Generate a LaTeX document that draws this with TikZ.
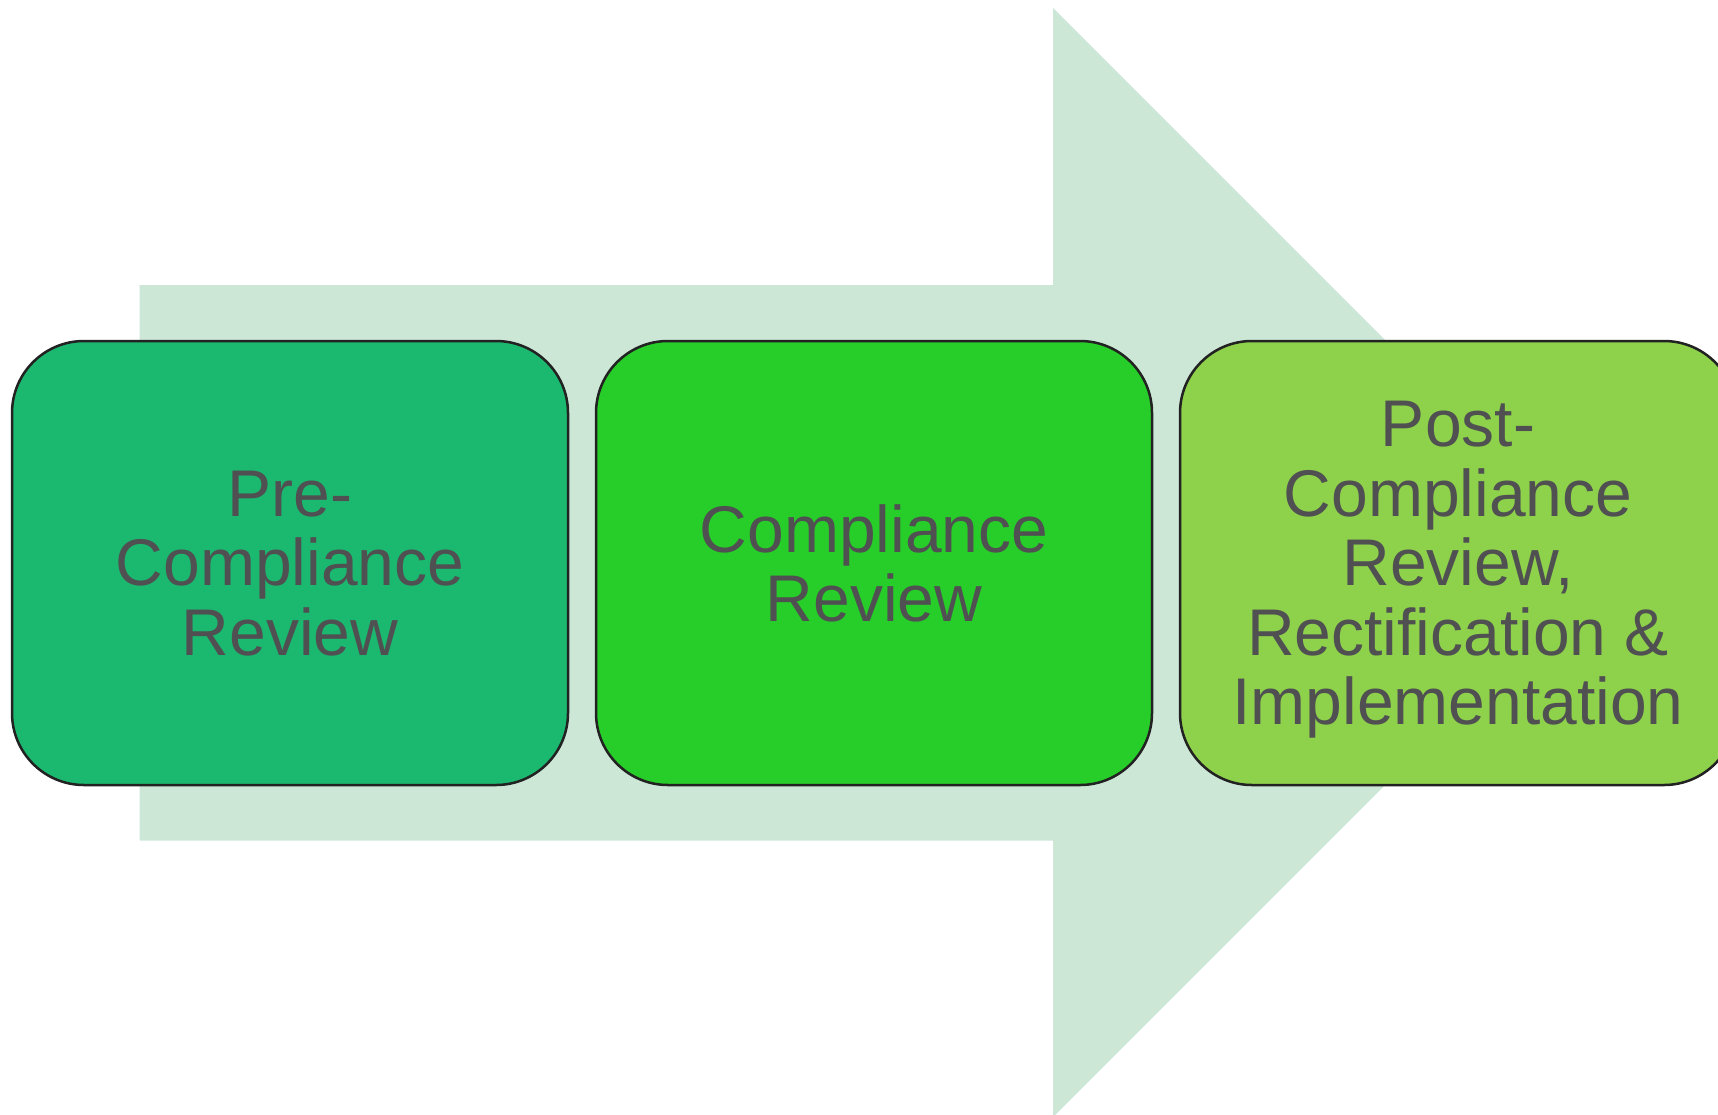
\documentclass[tikz,border=0pt]{standalone}
\usepackage{fontspec}
\setmainfont{Liberation Sans}
\definecolor{arrowfill}{HTML}{CDE7D7}
\definecolor{boxA}{HTML}{1BB86F}
\definecolor{boxB}{HTML}{27CD28}
\definecolor{boxC}{HTML}{8ED14B}
\definecolor{txtgray}{HTML}{505052}
\definecolor{edgegray}{HTML}{222222}
\tikzset{
  stagebox/.style={draw=edgegray, line width=2.5pt, rounded corners=72pt,
    minimum width=556pt, minimum height=444pt, inner sep=0pt,
    align=center, text=txtgray, text depth=0pt,
    font=\fontsize{66}{69.5}\selectfont},
}
\begin{document}
\begin{tikzpicture}[x=1pt,y=-1pt]
\useasboundingbox (0,0) rectangle (1718,1114);
\begin{scope}
\clip (0,0) rectangle (1718,1114);
% background arrow
\fill[arrowfill] (139.5,285) -- (1053,285) -- (1053,8) -- (1607.5,562.5)
  -- (1053,1117) -- (1053,840.5) -- (139.5,840.5) -- cycle;
% stages
\node[stagebox, fill=boxA] (pre) at (290,563) {Pre-\\Compliance\\Review};
\node[stagebox, fill=boxB] (comp) at (874,563) {Compliance\\Review};
\node[stagebox, fill=boxC] (post) at (1458,563) {Post-\\Compliance\\Review,\\Rectification \&\\Implementation};
\end{scope}
\end{tikzpicture}
\end{document}
